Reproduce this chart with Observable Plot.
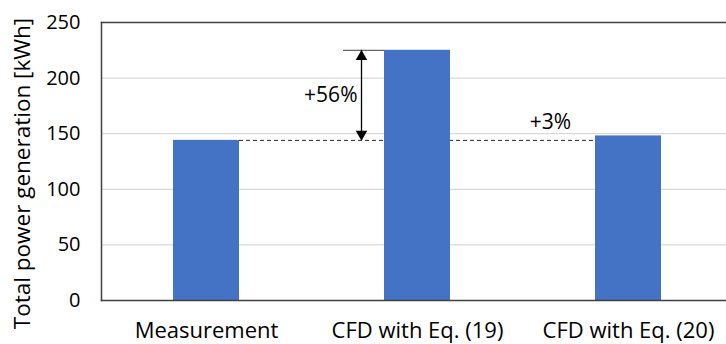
<!DOCTYPE html>
<html>
<head>
<meta charset="utf-8">
<script src="https://cdn.jsdelivr.net/npm/d3@7"></script>
<script src="https://cdn.jsdelivr.net/npm/@observablehq/plot@0.6"></script>
<style>
  html, body { margin: 0; padding: 0; background: #fff; overflow: hidden; }
</style>
</head>
<body>
<div id="chart"></div>
<script>
// Total power generation: measurement vs. two CFD models
const categories = ["Measurement", "CFD with Eq. (19)", "CFD with Eq. (20)"];
const values = [144, 225, 148];
const yTicks = [0, 50, 100, 150, 200, 250];
const gridTicks = [50, 100, 150, 200];
const changeLabels = ["+56%", "+3%"];

const data = categories.map((c, i) => ({category: c, value: values[i]}));
const base = values[0];
const font = "Open Sans, sans-serif";

const chart = Plot.plot({
  width: 726,
  height: 344,
  marginLeft: 101,
  marginRight: 0,
  marginTop: 22,
  marginBottom: 44,
  style: {fontFamily: font, fontSize: "20px", color: "#000", background: "#fff"},
  x: {domain: categories, range: [101, 734], paddingInner: 0.687, paddingOuter: 0.3435},
  y: {domain: [0, 250]},
  marks: [
    Plot.ruleY(gridTicks, {stroke: "#d9d9d9", strokeWidth: 1.3}),
    // reference level of the measurement
    Plot.ruleY([base], {
      y: d => d,
      x1: () => categories[0], x2: () => categories[2],
      insetLeft: 66, insetRight: 62,
      stroke: "#262626", strokeWidth: 1, strokeDasharray: "4,3"
    }),
    Plot.barY(data, {x: "category", y: "value", fill: "#4472c4"}),
    // frame lines
    Plot.frame({anchor: "top", stroke: "#404040", strokeWidth: 1.5}),
    Plot.frame({anchor: "left", stroke: "#404040", strokeWidth: 1.5}),
    Plot.frame({anchor: "bottom", stroke: "#404040", strokeWidth: 1.5}),
    Plot.axisY({ticks: yTicks, tickSize: 0, tickPadding: 21, label: null, fontSize: 20}),
    Plot.axisX({tickSize: 0, tickPadding: 22, label: null, fontSize: 22}),
    Plot.text(["Total power generation [kWh]"], {
      frameAnchor: "left", dx: -78.5, dy: 12, rotate: -90,
      textAnchor: "middle", lineAnchor: "middle", fontSize: 22.5
    }),
    // +56% difference marker
    Plot.tickY([values[1]], {x: () => categories[1], y: d => d, dx: -41, insetRight: 25, stroke: "#404040", strokeWidth: 1}),
    Plot.ruleX([categories[1]], {x: d => d, y1: base, y2: values[1], dx: -56, stroke: "#000", strokeWidth: 1.3}),
    Plot.dot([values[1]], {x: () => categories[1], y: d => d, dx: -56, dy: 6.3, symbol: "triangle", r: 4.3, fill: "#000", stroke: "none"}),
    Plot.dot([base], {x: () => categories[1], y: d => d, dx: -56, dy: -6.3, symbol: "triangle", rotate: 180, r: 4.3, fill: "#000", stroke: "none"}),
    Plot.text([changeLabels[0]], {x: () => categories[1], y: () => (base + values[1]) / 2, dx: -60, textAnchor: "end", fontSize: 21}),
    Plot.text([changeLabels[1]], {x: () => categories[2], y: () => 160, dx: -78, textAnchor: "middle", fontSize: 21})
  ]
});
document.getElementById("chart").append(chart);
</script>
</body>
</html>
